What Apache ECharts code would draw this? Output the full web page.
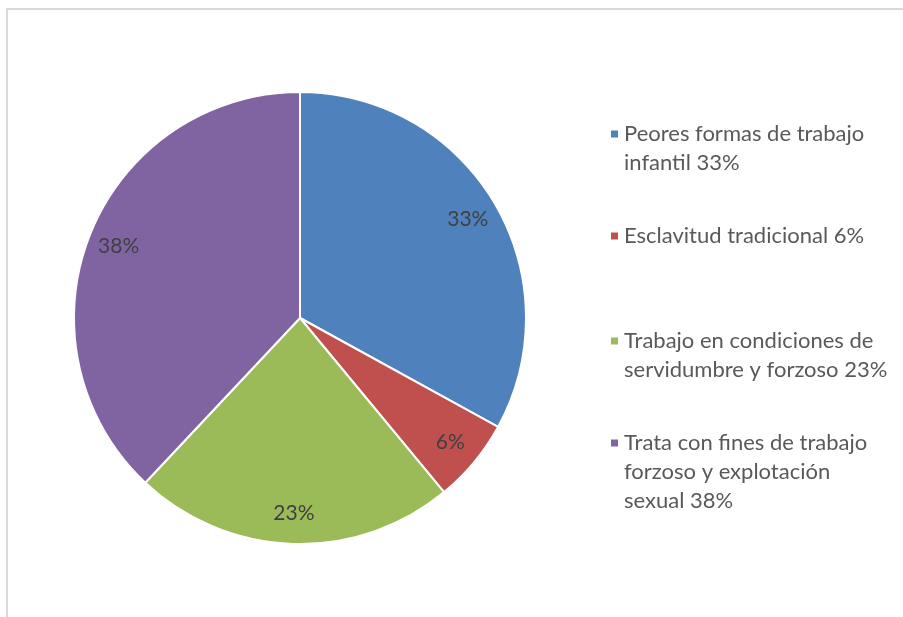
<!DOCTYPE html>
<html>
<head>
<meta charset="utf-8">
<script src="https://cdn.jsdelivr.net/npm/echarts@6/dist/echarts.min.js"></script>
<style>
html,body{margin:0;padding:0;background:#fff;}
#c{width:903px;height:617px;}
</style>
</head>
<body>
<div id="c"></div>
<script>
var categories = [
  'Peores formas de trabajo infantil',
  'Esclavitud tradicional',
  'Trabajo en condiciones de servidumbre y forzoso',
  'Trata con fines de trabajo forzoso y explotación sexual'
];
var values = [33, 6, 23, 38];
var colors = ['#4F81BD', '#C0504D', '#9BBB59', '#8064A2'];
// legend text as shown, wrapped per line
var legendLines = [
  ['Peores formas de trabajo', 'infantil 33%'],
  ['Esclavitud tradicional 6%'],
  ['Trabajo en condiciones de', 'servidumbre y forzoso 23%'],
  ['Trata con fines de trabajo', 'forzoso y explotación', 'sexual 38%']
];
var legendFirstLineCenter = [134, 236, 341, 443];

var LH = 29;
var chart = echarts.init(document.getElementById('c'));

var seriesData = categories.map(function (n, i) {
  return { name: n, value: values[i], itemStyle: { color: colors[i] } };
});

var legends = categories.map(function (n, i) {
  var lines = legendLines[i];
  var pad = lines.length - 1;
  return {
    data: [n],
    orient: 'vertical',
    left: 609,
    top: legendFirstLineCenter[i] - LH / 2 - pad * LH,
    padding: 0,
    itemWidth: 9,
    itemHeight: 9,
    icon: 'rect',
    selectedMode: false,
    formatter: function () {
      var blanks = [];
      for (var k = 0; k < pad; k++) blanks.push('');
      return blanks.concat(lines).join('\n');
    },
    textStyle: {
      fontFamily: 'Lato',
      fontSize: 22,
      color: '#595959',
      lineHeight: LH
    }
  };
});

chart.setOption({
  animation: false,
  backgroundColor: '#fff',
  graphic: [{
    type: 'rect',
    shape: { x: 7, y: 9, width: 1200, height: 1200 },
    style: { fill: 'none', stroke: '#D9D9D9', lineWidth: 2 },
    silent: true
  }],
  legend: legends,
  series: [{
    type: 'pie',
    center: [300, 318],
    radius: [0, 226],
    startAngle: 90,
    clockwise: true,
    label: { show: false },
    labelLine: { show: false },
    itemStyle: { borderColor: '#fff', borderWidth: 2 },
    emphasis: { disabled: true },
    data: seriesData
  }, {
    type: 'pie',
    center: [300, 318],
    radius: [158, 226],
    startAngle: 90,
    clockwise: true,
    silent: true,
    itemStyle: { color: 'rgba(0,0,0,0)', borderWidth: 0 },
    label: {
      show: true,
      position: 'inside',
      formatter: function (p) { return p.value + '%'; },
      fontFamily: 'Lato',
      fontSize: 21,
      color: '#404040'
    },
    labelLine: { show: false },
    emphasis: { disabled: true },
    data: categories.map(function (n, i) { return { name: n, value: values[i] }; })
  }]
});
</script>
</body>
</html>
